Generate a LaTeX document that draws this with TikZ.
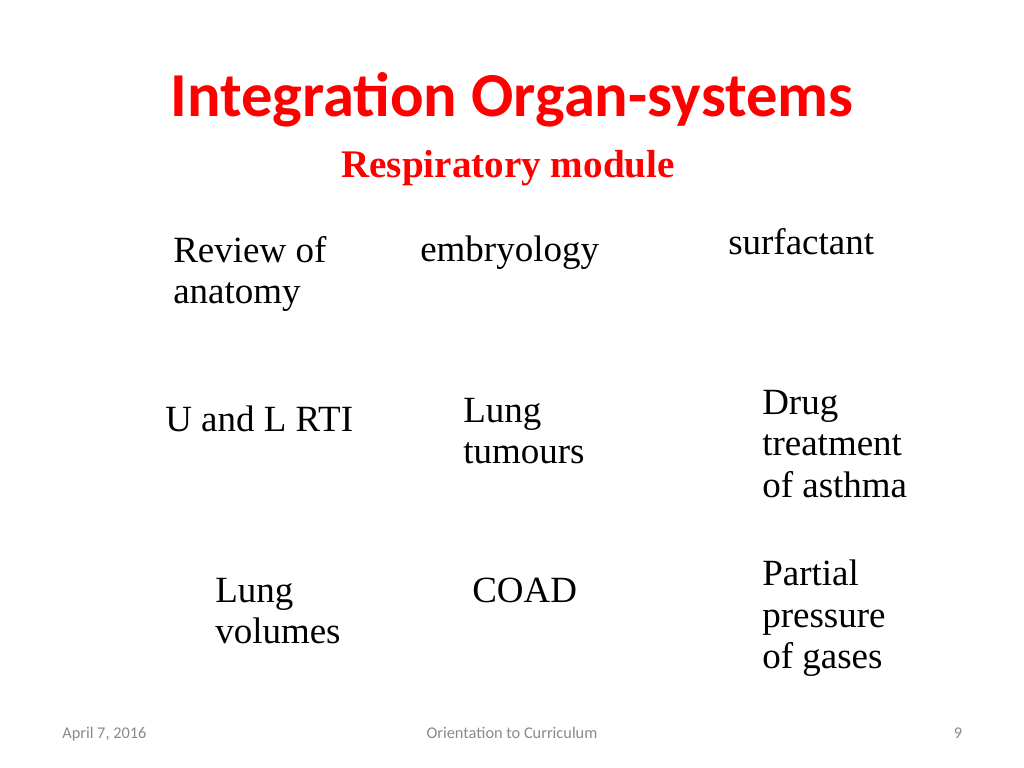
\documentclass[tikz,border=0pt]{standalone}
\usepackage{fontspec}
\setmainfont{Liberation Serif}
\newfontfamily\slidefont{Carlito}
\usetikzlibrary{positioning}
\definecolor{titlered}{RGB}{255,0,0}
\definecolor{footgray}{RGB}{137,137,137}
\tikzset{
  topic/.style={anchor=north west, inner sep=0pt, align=left,
    font=\fontsize{26}{29}\selectfont},
  foot/.style={font=\slidefont\fontsize{11.5}{13}\selectfont, text=footgray, inner sep=0pt}
}
\begin{document}
\begin{tikzpicture}[x=0.703pt, y=-0.703pt]
  \useasboundingbox (0,0) rectangle (1024,768);

  % title
  \node[font=\slidefont\bfseries\fontsize{44}{50}\selectfont, text=titlered] (title) at (512,100) {Integration Organ-systems};
  \node[font=\bfseries\fontsize{27.5}{30}\selectfont, text=titlered] (sub) at (508,168) {Respiratory module};

  % topics
  \node[topic] (anat) at (173,236) {Review of\\anatomy};
  \node[topic] (embr) at (420,236) {embryology};
  \node[topic] (surf) at (728,228) {surfactant};
  \node[topic] (rti) at (165,406) {U and L RTI};
  \node[topic] (tum) at (463,398) {Lung\\tumours};
  \node[topic] (drug) at (762,390) {Drug\\treatment\\of asthma};
  \node[topic] (vol) at (215,578) {Lung\\volumes};
  \node[topic] (coad) at (472,578) {COAD};
  \node[topic] (gas) at (762,560) {Partial\\pressure\\of gases};

  % footer
  \node[foot, anchor=base west] (date) at (62,738) {April 7, 2016};
  \node[foot, anchor=base] (course) at (512,738) {Orientation to Curriculum};
  \node[foot, anchor=base] (page) at (958,738) {9};
\end{tikzpicture}
\end{document}
